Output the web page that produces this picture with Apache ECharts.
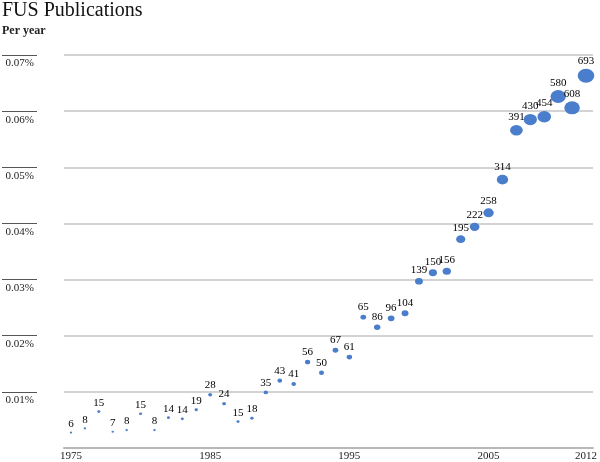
<!DOCTYPE html>
<html>
<head>
<meta charset="utf-8">
<script src="https://cdn.jsdelivr.net/npm/echarts@6/dist/echarts.min.js"></script>
<style>html,body{margin:0;padding:0;background:#fff}#c{width:600px;height:462px}</style>
</head>
<body>
<div id="c"></div>
<script>
var years = [1975,1976,1977,1978,1979,1980,1981,1982,1983,1984,1985,1986,1987,1988,1989,1990,1991,1992,1993,1994,1995,1996,1997,1998,1999,2000,2001,2002,2003,2004,2005,2006,2007,2008,2009,2010,2011,2012];
var counts = [6,8,15,7,8,15,8,14,14,19,28,24,15,18,35,43,41,56,50,67,61,65,86,96,104,139,150,156,195,222,258,314,391,430,454,580,608,693];
var sharePct = [0.00274,0.0035,0.0065,0.0029,0.0032,0.0061,0.0032,0.0054,0.0052,0.0068,0.0095,0.0079,0.0047,0.0053,0.0099,0.0120,0.0114,0.0153,0.0134,0.0174,0.0162,0.0233,0.0215,0.0231,0.0240,0.0297,0.0312,0.0315,0.0372,0.0394,0.0419,0.0478,0.0566,0.0585,0.0590,0.0626,0.0606,0.0663];
var xTickLabels = [1975,1985,1995,2005,2012];
var yTicks = [0.01,0.02,0.03,0.04,0.05,0.06,0.07];

var data = years.map(function(y,i){ return [y, sharePct[i], counts[i]]; });
var serif = '"Liberation Serif","DejaVu Serif",serif';
var chart = echarts.init(document.getElementById('c'));
chart.setOption({
  animation: false,
  title: {
    text: 'FUS Publications',
    subtext: 'Per year',
    left: 2, top: 1, padding: [0,0,0,0], itemGap: 4,
    textStyle: {fontFamily: serif, fontSize: 20, fontWeight: 'normal', color: '#111'},
    subtextStyle: {fontFamily: serif, fontSize: 12, fontWeight: 'bold', color: '#222'}
  },
  grid: {left: 64, right: 4, top: 55, bottom: 11.5},
  xAxis: {
    type: 'value', min: 1974.5, max: 2012.5,
    splitLine: {show: false},
    axisTick: {show: false},
    axisLine: {show: true, lineStyle: {color: '#b8b8b8', width: 2}},
    axisLabel: {
      customValues: xTickLabels, margin: 3,
      fontFamily: serif, fontSize: 11, color: '#222',
      formatter: function(v){ return String(v); }
    }
  },
  yAxis: [{
    type: 'value', min: 0, max: 0.07, interval: 0.01,
    axisLine: {show: false}, axisTick: {show: false},
    splitLine: {show: true, lineStyle: {color: '#c4c4c4', width: 1.5}},
    axisLabel: {
      margin: 30, fontFamily: serif, fontSize: 11, color: '#222',
      verticalAlign: 'top', padding: [3,0,0,0],
      formatter: function(v){ return v === 0 ? '' : v.toFixed(2) + '%'; }
    }
  },{
    type: 'value', min: 0, max: 0.07, interval: 0.01, position: 'left', offset: 27,
    axisLine: {show: false},
    axisTick: {show: true, length: 35, customValues: yTicks, lineStyle: {color: '#555', width: 1}},
    axisLabel: {show: false}, splitLine: {show: false}
  }],
  series: [{
    type: 'scatter',
    data: data,
    symbolSize: function(d){ var s = Math.sqrt(d[2]); return [0.6*s+0.8, 0.5*s+0.8]; },
    itemStyle: {color: '#4a7dcb', opacity: 1},
    label: {
      show: true, position: 'top', distance: 2,
      fontFamily: serif, fontSize: 11, color: '#000',
      formatter: function(p){ return p.data[2]; }
    }
  }]
});
</script>
</body>
</html>
